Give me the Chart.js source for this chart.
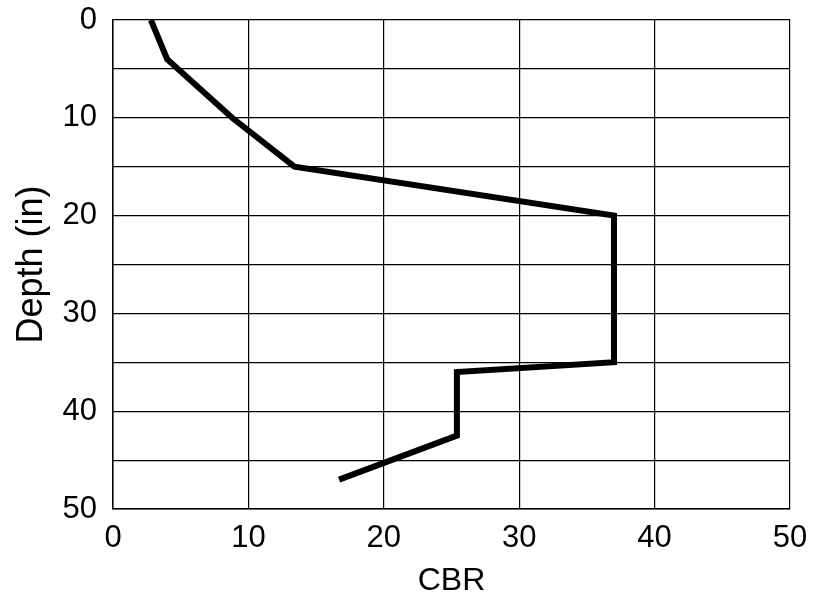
<!DOCTYPE html>
<html>
<head>
<meta charset="utf-8">
<script src="https://cdn.jsdelivr.net/npm/chart.js@4.4.0/dist/chart.umd.min.js"></script>
<style>
  html, body { margin: 0; padding: 0; background: #fff; }
  #wrap { width: 825px; height: 610px; }
</style>
</head>
<body>
<div id="wrap"><canvas id="myChart" width="825" height="610"></canvas></div>
<script>
// CBR profile
const depthIn = [0, 4, 10, 15, 20, 35, 36, 42.5, 47];
const cbrValues = [2.8, 4.0, 8.8, 13.4, 37, 37, 25.4, 25.4, 16.7];
const xTicks = [0, 10, 20, 30, 40, 50];
const yTicks = [0, 5, 10, 15, 20, 25, 30, 35, 40, 45, 50];
const yLabels = [0, 10, 20, 30, 40, 50];

const points = depthIn.map((d, i) => ({ x: cbrValues[i], y: d }));

const ctx = document.getElementById('myChart');

new Chart(ctx, {
    type: 'scatter',
    data: {
        datasets: [{
            label: 'CBR',
            data: points,
            showLine: true,
            borderColor: '#000',
            borderWidth: 6,
            pointRadius: 0,
            borderJoinStyle: 'miter',
            borderCapStyle: 'butt'
        }]
    },
    options: {
        responsive: false,
        animation: false,
        layout: { padding: { top: 20, right: 35, left: 0, bottom: 0 } },
        plugins: {
            legend: { display: false },
            tooltip: { enabled: false }
        },
        scales: {
            x: {
                type: 'linear',
                min: 0,
                max: 50,
                afterBuildTicks: axis => { axis.ticks = xTicks.map(v => ({ value: v })); },
                afterFit: axis => {
                    axis.height = 101;
                    axis.paddingLeft = 0;
                    axis.paddingRight = 0;
                },
                grid: { color: '#000', lineWidth: 1.2, drawTicks: false },
                border: { color: '#000', width: 1.5 },
                ticks: {
                    color: '#000',
                    padding: 11,
                    font: { family: 'Liberation Sans, Arial', size: 31 }
                },
                title: {
                    display: true,
                    text: 'CBR',
                    color: '#000',
                    padding: { top: 4, bottom: 10 },
                    font: { family: 'Liberation Sans, Arial', size: 32 }
                }
            },
            y: {
                type: 'linear',
                reverse: true,
                min: 0,
                max: 50,
                afterBuildTicks: axis => { axis.ticks = yTicks.map(v => ({ value: v })); },
                afterFit: axis => {
                    axis.width = 113;
                    axis.paddingTop = 0;
                    axis.paddingBottom = 0;
                },
                grid: { color: '#000', lineWidth: 1.2, drawTicks: false },
                border: { color: '#000', width: 1.5 },
                ticks: {
                    color: '#000',
                    padding: 16,
                    font: { family: 'Liberation Sans, Arial', size: 31 },
                    callback: v => yLabels.includes(v) ? v : ''
                },
                title: {
                    display: true,
                    text: 'Depth (in)',
                    color: '#000',
                    padding: { top: 10, bottom: 8 },
                    font: { family: 'Liberation Sans, Arial', size: 36 }
                }
            }
        }
    }
});
</script>
</body>
</html>
